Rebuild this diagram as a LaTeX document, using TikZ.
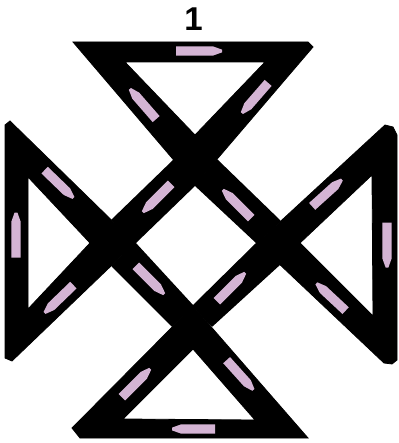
\documentclass[tikz,border=0pt]{standalone}
\usepackage{fontspec}
\setmainfont{Liberation Sans}
\definecolor{penfill}{RGB}{212,180,212}
\begin{document}
\begin{tikzpicture}[x=1pt,y=-1pt,
  band/.style={fill=black, even odd rule, draw=black, line width=0.8pt},
  side/.style={fill=black, draw=black, line width=1.4pt, line join=round},
  pics/pen/.style={code={
    \fill[penfill] ({-#1/2},-4.6) -- ({#1/2-9},-4.6) -- ({#1/2},-1.4) -- ({#1/2},1.4)
      -- ({#1/2-9},4.6) -- ({-#1/2},4.6) -- cycle;}}]
\useasboundingbox (0,0) rectangle (398,443);
% top ring
\path[band] (73,42) -- (308,42) -- (313,47) -- (195,185) -- cycle
  (125,62) -- (265,62) -- (195,135) -- cycle;
% bottom ring
\path[band] (72,428) -- (80,438) -- (308,438) -- (193,306) -- cycle
  (123,419) -- (255,420) -- (193,349) -- cycle;
% left ring
\path[band] (5,125) -- (10,121) -- (135,243) -- (12,361) -- (5,358) -- cycle
  (28,177) -- (90,243) -- (28,309) -- cycle;
% right ring
\path[band] (385,125) -- (393,127) -- (397,135) -- (397,360) -- (392,364) -- (384,363) -- (257,243) -- cycle
  (372,175) -- (373,316) -- (300,243) -- cycle;
% sides of the central square
\path[side] (174,160) -- (112,220) -- (135,243) -- (195,185) -- cycle;
\path[side] (217,160) -- (280,221) -- (257,243) -- (195,185) -- cycle;
\path[side] (135,243) -- (193,306) -- (172,326) -- (112,266) -- cycle;
\path[side] (257,243) -- (280,264) -- (212,326) -- (193,306) -- cycle;
% direction marks
\pic[rotate=0] at (199,51) {pen=46};
\pic[rotate=229] at (255,98) {pen=40};
\pic[rotate=131] at (143,104) {pen=40};
\pic[rotate=-44] at (59,184) {pen=40};
\pic[rotate=225] at (157,198) {pen=40};
\pic[rotate=135] at (237,204) {pen=40};
\pic[rotate=42] at (327,193) {pen=40};
\pic[rotate=90] at (16,235) {pen=45};
\pic[rotate=-90] at (387,245) {pen=45};
\pic[rotate=224] at (59,299) {pen=40};
\pic[rotate=-45] at (150,280) {pen=40};
\pic[rotate=45] at (231,287) {pen=40};
\pic[rotate=137] at (331,297) {pen=40};
\pic[rotate=45] at (136,383) {pen=40};
\pic[rotate=-48] at (240,375) {pen=40};
\pic[rotate=180] at (193.5,429) {pen=43};
% label
\node[font=\bfseries\fontsize{33}{33}\selectfont, inner sep=0pt] (label) at (193.5,19.5) {1};
\end{tikzpicture}
\end{document}
